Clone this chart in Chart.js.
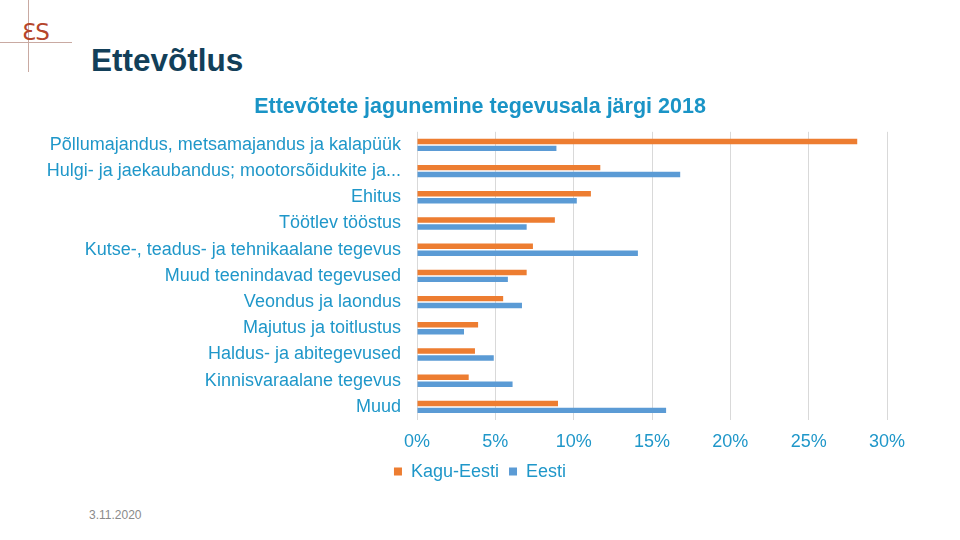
<!DOCTYPE html>
<html>
<head>
<meta charset="utf-8">
<script src="https://cdn.jsdelivr.net/npm/chart.js@4.4.0/dist/chart.umd.min.js"></script>
<style>
	html, body { margin: 0; padding: 0; background: #fff; }
	#page { position: relative; width: 960px; height: 540px; overflow: hidden; font-family: "Liberation Sans", Arial, sans-serif; }
	#chartBox { position: absolute; left: 0; top: 0; width: 960px; height: 540px; }
	.vline { position: absolute; left: 28px; top: 0; width: 1px; height: 72px; background: #c9aaa2; }
	.hline { position: absolute; left: 0; top: 42px; width: 72px; height: 1px; background: #c9aaa2; }
	.logo { position: absolute; left: 22px; top: 19px; font-family: "DejaVu Sans", sans-serif; font-size: 23px; color: #b5452b; letter-spacing: -1px; line-height: 26px; }
	.head { position: absolute; left: 91px; top: 42px; font-size: 31.5px; font-weight: bold; color: #123f59; }
	.date { position: absolute; left: 89px; top: 508px; font-size: 12px; color: #8a8a8a; }
</style>
</head>
<body>
<div id="page">
	<div class="vline"></div>
	<div class="hline"></div>
	<div class="logo">ƐS</div>
	<div class="head">Ettevõtlus</div>
	<div class="date">3.11.2020</div>
	<div id="chartBox"><canvas id="cv"></canvas></div>
</div>
<script>
var labels = [
	"Põllumajandus, metsamajandus ja kalapüük",
	"Hulgi- ja jaekaubandus; mootorsõidukite ja...",
	"Ehitus",
	"Töötlev tööstus",
	"Kutse-, teadus- ja tehnikaalane tegevus",
	"Muud teenindavad tegevused",
	"Veondus ja laondus",
	"Majutus ja toitlustus",
	"Haldus- ja abitegevused",
	"Kinnisvaraalane tegevus",
	"Muud"
];
var kaguEesti = [28.1, 11.7, 11.1, 8.8, 7.4, 7.0, 5.5, 3.9, 3.7, 3.3, 9.0];
var eesti     = [8.9, 16.8, 10.2, 7.0, 14.1, 5.8, 6.7, 3.0, 4.9, 6.1, 15.9];
var xTicks = [0, 5, 10, 15, 20, 25, 30];

var textColor = "#1f97c9";
var font18 = { family: "'Liberation Sans', Arial, sans-serif", size: 18 };

var chart = new Chart(document.getElementById("cv"), {
	type: "bar",
	data: {
		labels: labels,
		datasets: [
			{ label: "Kagu-Eesti", data: kaguEesti, backgroundColor: "#ed7d31", categoryPercentage: 0.53, barPercentage: 0.78 },
			{ label: "Eesti", data: eesti, backgroundColor: "#5b9bd5", categoryPercentage: 0.53, barPercentage: 0.78 }
		]
	},
	options: {
		indexAxis: "y",
		responsive: true,
		maintainAspectRatio: false,
		animation: false,
		layout: { padding: { top: 94, right: 0, bottom: 49.4, left: 0 } },
		plugins: {
			title: {
				display: true,
				text: "Ettevõtete jagunemine tegevusala järgi 2018",
				color: "#1a94c6",
				font: { family: font18.family, size: 21.5, weight: "bold" },
				padding: { top: 0, bottom: 12 }
			},
			legend: {
				position: "bottom",
				labels: {
					color: textColor,
					font: font18,
					boxWidth: 8,
					boxHeight: 8,
					padding: 10
				}
			},
			tooltip: { enabled: false }
		},
		scales: {
			x: {
				min: 0,
				max: 30,
				afterBuildTicks: function(scale) {
					scale.ticks = xTicks.map(function(v) { return { value: v }; });
				},
				afterFit: function(scale) { scale.height = 32.6; },
				ticks: {
					color: textColor,
					font: font18,
					padding: 11,
					callback: function(v) { return v + "%"; }
				},
				grid: { color: "#d9d9d9", drawTicks: false },
				border: { display: false }
			},
			y: {
				afterFit: function(scale) { scale.width = 417; },
				ticks: { color: textColor, font: font18, padding: 16, autoSkip: false },
				grid: { display: false, drawTicks: false },
				border: { display: false }
			},
			// empty right margin so title and legend centre on the page
			yRight: {
				axis: "y",
				type: "category",
				position: "right",
				afterFit: function(scale) { scale.width = 73; },
				ticks: { display: false },
				grid: { display: false, drawTicks: false },
				border: { display: false }
			}
		}
	}
});
</script>
</body>
</html>
